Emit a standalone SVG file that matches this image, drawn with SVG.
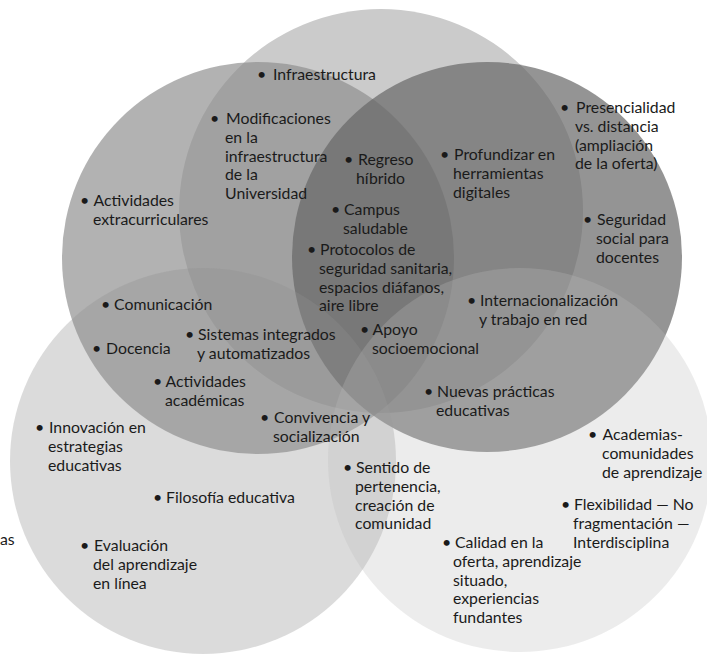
<svg xmlns="http://www.w3.org/2000/svg" width="707" height="654" viewBox="0 0 707 654">
<style>
text{font-family:Lato,"Noto Sans","Liberation Sans",sans-serif;font-size:15.8px;fill:#1a1a1a}
.b{font-size:16px}
</style>
<rect width="707" height="654" fill="#ffffff"/>
<g id="circle-top"><circle cx="381" cy="211" r="202" fill="#cbcbcb"/></g>
<g id="circle-left"><circle cx="258" cy="258" r="196" fill="#8e8e8e" fill-opacity="0.68"/></g>
<g id="circle-right"><circle cx="487" cy="257" r="195" fill="#666666" fill-opacity="0.7"/></g>
<g id="circle-bottom-left"><circle cx="203" cy="461" r="193" fill="#8e8e8e" fill-opacity="0.32"/></g>
<g id="circle-bottom-right"><circle cx="520" cy="460" r="192" fill="#bcbcbc" fill-opacity="0.283"/></g>

<g id="n-infra"><text y="80"><tspan class="b" x="257">•</tspan><tspan x="269"> Infraestructura</tspan></text></g>
<g id="n-modif"><text y="124"><tspan class="b" x="210">•</tspan><tspan x="222"> Modificaciones</tspan><tspan x="225" dy="18.75">en la</tspan><tspan x="225" dy="18.75">infraestructura</tspan><tspan x="225" dy="18.75">de la</tspan><tspan x="225" dy="18.75">Universidad</tspan></text></g>
<g id="n-extra"><text y="206"><tspan class="b" x="80">•</tspan><tspan x="90"> Actividades</tspan><tspan x="93" dy="18.75">extracurriculares</tspan></text></g>
<g id="n-regreso"><text y="165"><tspan class="b" x="344">•</tspan><tspan x="354"> Regreso</tspan><tspan x="356" dy="18.75">híbrido</tspan></text></g>
<g id="n-profund"><text y="160"><tspan class="b" x="440">•</tspan><tspan x="450"> Profundizar en</tspan><tspan x="453" dy="18.75">herramientas</tspan><tspan x="453" dy="18.75">digitales</tspan></text></g>
<g id="n-presenc"><text y="113"><tspan class="b" x="560">•</tspan><tspan x="572"> Presencialidad</tspan><tspan x="575" dy="18.75">vs. distancia</tspan><tspan x="575" dy="18.75">(ampliación</tspan><tspan x="575" dy="18.75">de la oferta)</tspan></text></g>
<g id="n-campus"><text y="215"><tspan class="b" x="331">•</tspan><tspan x="340"> Campus</tspan><tspan x="343" dy="18.75">saludable</tspan></text></g>
<g id="n-segur"><text y="225"><tspan class="b" x="583">•</tspan><tspan x="593"> Seguridad</tspan><tspan x="596" dy="18.75">social para</tspan><tspan x="596" dy="18.75">docentes</tspan></text></g>
<g id="n-protoc"><text y="255"><tspan class="b" x="307">•</tspan><tspan x="316"> Protocolos de</tspan><tspan x="319" dy="18.75">seguridad sanitaria,</tspan><tspan x="319" dy="18.75">espacios diáfanos,</tspan><tspan x="319" dy="18.75">aire libre</tspan></text></g>
<g id="n-comun"><text y="310"><tspan class="b" x="101">•</tspan><tspan x="110"> Comunicación</tspan></text></g>
<g id="n-intern"><text y="306"><tspan class="b" x="467">•</tspan><tspan x="476"> Internacionalización</tspan><tspan x="479" dy="18.75">y trabajo en red</tspan></text></g>
<g id="n-apoyo"><text y="335"><tspan class="b" x="360">•</tspan><tspan x="369"> Apoyo</tspan><tspan x="372" dy="18.75">socioemocional</tspan></text></g>
<g id="n-sistemas"><text y="340"><tspan class="b" x="185">•</tspan><tspan x="194"> Sistemas integrados</tspan><tspan x="197" dy="18.75">y automatizados</tspan></text></g>
<g id="n-docencia"><text y="354"><tspan class="b" x="92">•</tspan><tspan x="102"> Docencia</tspan></text></g>
<g id="n-acad"><text y="387"><tspan class="b" x="153">•</tspan><tspan x="162"> Actividades</tspan><tspan x="165" dy="18.75">académicas</tspan></text></g>
<g id="n-nuevas"><text y="397"><tspan class="b" x="424">•</tspan><tspan x="433"> Nuevas prácticas</tspan><tspan x="436" dy="18.75">educativas</tspan></text></g>
<g id="n-conviv"><text y="423"><tspan class="b" x="260">•</tspan><tspan x="270"> Convivencia y</tspan><tspan x="273" dy="18.75">socialización</tspan></text></g>
<g id="n-innov"><text y="433"><tspan class="b" x="35">•</tspan><tspan x="45"> Innovación en</tspan><tspan x="48" dy="18.75">estrategias</tspan><tspan x="48" dy="18.75">educativas</tspan></text></g>
<g id="n-academias"><text y="440"><tspan class="b" x="588">•</tspan><tspan x="599"> Academias-</tspan><tspan x="602" dy="18.75">comunidades</tspan><tspan x="602" dy="18.75">de aprendizaje</tspan></text></g>
<g id="n-sentido"><text y="473"><tspan class="b" x="343">•</tspan><tspan x="352"> Sentido de</tspan><tspan x="355" dy="18.75">pertenencia,</tspan><tspan x="355" dy="18.75">creación de</tspan><tspan x="355" dy="18.75">comunidad</tspan></text></g>
<g id="n-filosofia"><text y="503"><tspan class="b" x="153">•</tspan><tspan x="162"> Filosofía educativa</tspan></text></g>
<g id="n-flex"><text y="510"><tspan class="b" x="561">•</tspan><tspan x="570"> Flexibilidad — No</tspan><tspan x="573" dy="18.75">fragmentación —</tspan><tspan x="573" dy="18.75">Interdisciplina</tspan></text></g>
<g id="n-evalu"><text y="551"><tspan class="b" x="80">•</tspan><tspan x="90"> Evaluación</tspan><tspan x="93" dy="18.75">del aprendizaje</tspan><tspan x="93" dy="18.75">en línea</tspan></text></g>
<g id="n-calidad"><text y="548"><tspan class="b" x="442">•</tspan><tspan x="451"> Calidad en la</tspan><tspan x="453" dy="18.75">oferta, aprendizaje</tspan><tspan x="453" dy="18.75">situado,</tspan><tspan x="453" dy="18.75">experiencias</tspan><tspan x="453" dy="18.75">fundantes</tspan></text></g>
<g id="n-as"><text x="0" y="545">as</text></g>
</svg>
